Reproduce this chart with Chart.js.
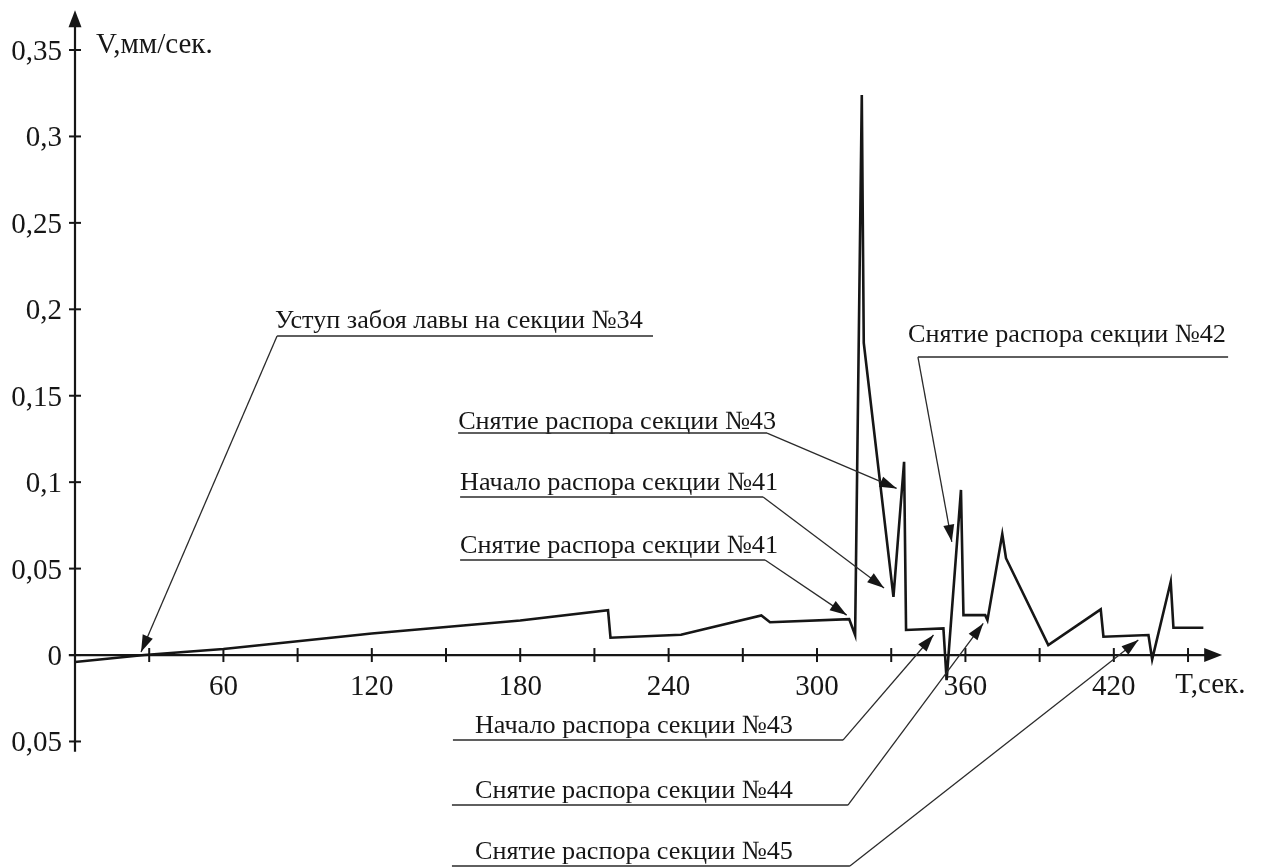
<!DOCTYPE html>
<html>
<head>
<meta charset="utf-8">
<script src="https://cdn.jsdelivr.net/npm/chart.js@4.4.0/dist/chart.umd.min.js"></script>
<style>
html, body { margin: 0; padding: 0; background: #fff; }
</style>
</head>
<body>
<canvas id="myChart" width="1263" height="868"></canvas>
<script>
// 1 DATA
const timeSec = [0, 28, 60, 120, 180, 215.5, 216.5, 245, 277.5, 281, 313, 315.4, 318.1, 318.9, 330.9, 335.2, 336,
    351.1, 352.4, 358.2, 359.2, 368, 368.9, 374.9, 376.4, 393.5, 414.7, 415.8, 434, 435.5, 443, 444.1, 456.2];
const speedMm = [-0.004, 0, 0.0035, 0.0125, 0.02, 0.026, 0.010, 0.0117, 0.0229, 0.019, 0.0208, 0.0116, 0.324, 0.1805, 0.0337, 0.1118, 0.0145,
    0.0154, -0.0145, 0.0955, 0.0231, 0.0231, 0.0202, 0.070, 0.056, 0.0058, 0.0264, 0.0106, 0.0116, -0.0025, 0.0424, 0.0158, 0.0158];

const xTickValues = [60, 120, 180, 240, 300, 360, 420];
const xTickLabels = ['60', '120', '180', '240', '300', '360', '420'];
const xMinorTicks = [30, 60, 90, 120, 150, 180, 210, 240, 270, 300, 330, 360, 390, 420, 450];
const yTickValues = [-0.05, 0, 0.05, 0.1, 0.15, 0.2, 0.25, 0.3, 0.35];
// the lower label is printed without a minus sign in the original
const yTickLabels = ['0,05', '0', '0,05', '0,1', '0,15', '0,2', '0,25', '0,3', '0,35'];

// annotation texts and where they point (seconds / mm per sec)
const noteTexts = [
    'Уступ забоя лавы на секции №34',
    'Снятие распора секции №42',
    'Снятие распора секции №43',
    'Начало распора секции №41',
    'Снятие распора секции №41',
    'Начало распора секции №43',
    'Снятие распора секции №44',
    'Снятие распора секции №45'
];
const noteTipT = [26.7, 354.5, 332.2, 327.1, 312.0, 347.1, 367.2, 429.9];
const noteTipV = [0.0017, 0.0655, 0.0964, 0.0388, 0.0231, 0.0116, 0.0183, 0.0087];

// 2 LAYOUT OF THE NOTES (in axis units)
const noteLayout = [
    { textT: 80.9, textV: 0.1889, t1: 81.7, t2: 233.7, lineV: 0.1845, from: 'left' },
    { textT: 336.8, textV: 0.1812, t1: 340.8, t2: 466.2, lineV: 0.1724, from: 'left' },
    { textT: 154.9, textV: 0.1307, t1: 154.9, t2: 279.8, lineV: 0.1284, from: 'right' },
    { textT: 155.7, textV: 0.0955, t1: 155.7, t2: 278.2, lineV: 0.0914, from: 'right' },
    { textT: 155.7, textV: 0.0590, t1: 155.7, t2: 279.0, lineV: 0.0550, from: 'right' },
    { textT: 161.7, textV: -0.0451, t1: 152.8, t2: 310.5, lineV: -0.0492, from: 'right' },
    { textT: 161.7, textV: -0.0827, t1: 152.4, t2: 312.5, lineV: -0.0868, from: 'right' },
    { textT: 161.7, textV: -0.1180, t1: 152.4, t2: 313.3, lineV: -0.1221, from: 'right' }
];

const ink = '#161616';
const serif = '"Liberation Serif", "DejaVu Serif", serif';

// 3 HELPERS
function arrowHead(ctx, fx, fy, tx, ty, len, half) {
    const dx = tx - fx, dy = ty - fy;
    const d = Math.hypot(dx, dy);
    const ux = dx / d, uy = dy / d;
    const bx = tx - ux * len, by = ty - uy * len;
    ctx.beginPath();
    ctx.moveTo(tx, ty);
    ctx.lineTo(bx - uy * half, by + ux * half);
    ctx.lineTo(bx + uy * half, by - ux * half);
    ctx.closePath();
    ctx.fill();
}

// 4 AXES PLUGIN
const axesPlugin = {
    id: 'crossAxes',
    beforeDatasetsDraw(chart) {
        const { ctx, scales: { x, y } } = chart;
        const x0 = x.getPixelForValue(0);
        const y0 = y.getPixelForValue(0);
        ctx.save();
        ctx.strokeStyle = ink;
        ctx.fillStyle = ink;
        ctx.lineWidth = 2.2;

        // vertical axis
        const yTop = y.getPixelForValue(0.373);
        const yBot = y.getPixelForValue(-0.056);
        ctx.beginPath();
        ctx.moveTo(x0, yBot);
        ctx.lineTo(x0, yTop + 12);
        ctx.stroke();
        arrowHead(ctx, x0, yBot, x0, yTop, 17, 6.5);

        // horizontal axis
        const xLeft = x.getPixelForValue(-2.5);
        const xRight = x.getPixelForValue(463.8);
        ctx.beginPath();
        ctx.moveTo(xLeft, y0);
        ctx.lineTo(xRight - 12, y0);
        ctx.stroke();
        arrowHead(ctx, xLeft, y0, xRight, y0, 18, 7);

        // ticks
        ctx.lineWidth = 2;
        yTickValues.forEach(v => {
            const py = y.getPixelForValue(v);
            ctx.beginPath();
            ctx.moveTo(x0 - 6, py);
            ctx.lineTo(x0 + 6, py);
            ctx.stroke();
        });
        xMinorTicks.forEach(t => {
            const px = x.getPixelForValue(t);
            ctx.beginPath();
            ctx.moveTo(px, y0 - 7);
            ctx.lineTo(px, y0 + 7);
            ctx.stroke();
        });

        // tick labels
        ctx.font = '29px ' + serif;
        ctx.textAlign = 'right';
        ctx.textBaseline = 'alphabetic';
        yTickValues.forEach((v, i) => {
            ctx.fillText(yTickLabels[i], x0 - 13, y.getPixelForValue(v) + 10);
        });
        ctx.textAlign = 'center';
        xTickValues.forEach((t, i) => {
            ctx.fillText(xTickLabels[i], x.getPixelForValue(t), y0 + 40);
        });

        // axis titles
        ctx.textAlign = 'left';
        ctx.fillText('V,мм/сек.', x0 + 21, y.getPixelForValue(0.35) + 3);
        ctx.fillText('T,сек.', x.getPixelForValue(444.8), y0 + 38);
        ctx.restore();
    },
    afterDatasetsDraw(chart) {
        const { ctx, scales: { x, y } } = chart;
        ctx.save();
        ctx.fillStyle = ink;
        ctx.strokeStyle = '#2a2a2a';
        ctx.font = '26.2px ' + serif;
        ctx.textAlign = 'left';
        ctx.textBaseline = 'alphabetic';
        noteLayout.forEach((n, i) => {
            const ly = y.getPixelForValue(n.lineV);
            const lx1 = x.getPixelForValue(n.t1);
            const lx2 = x.getPixelForValue(n.t2);
            ctx.fillText(noteTexts[i], x.getPixelForValue(n.textT), y.getPixelForValue(n.textV));
            ctx.lineWidth = 1.5;
            ctx.beginPath();
            ctx.moveTo(lx1, ly);
            ctx.lineTo(lx2, ly);
            ctx.stroke();
            const sx = n.from === 'left' ? lx1 : lx2;
            const tx = x.getPixelForValue(noteTipT[i]);
            const ty = y.getPixelForValue(noteTipV[i]);
            ctx.lineWidth = 1.3;
            ctx.beginPath();
            ctx.moveTo(sx, ly);
            ctx.lineTo(tx, ty);
            ctx.stroke();
            arrowHead(ctx, sx, ly, tx, ty, 17, 5.5);
        });
        ctx.restore();
    }
};

// 5 CHART
const points = timeSec.map((t, i) => ({ x: t, y: speedMm[i] }));
const ctx = document.querySelector('#myChart').getContext('2d');
const myChart = new Chart(ctx, {
    type: 'scatter',
    data: {
        datasets: [{
            label: 'V',
            data: points,
            showLine: true,
            borderColor: ink,
            borderWidth: 2.6,
            pointRadius: 0,
            tension: 0,
            clip: false
        }]
    },
    options: {
        responsive: false,
        animation: false,
        devicePixelRatio: 1,
        layout: { padding: { left: 75, right: 25.5, top: 50, bottom: 40.1 } },
        plugins: { legend: { display: false }, tooltip: { enabled: false } },
        scales: {
            x: { type: 'linear', min: 0, max: 470, display: false },
            y: { type: 'linear', min: -0.1, max: 0.35, display: false }
        }
    },
    plugins: [axesPlugin]
});
</script>
</body>
</html>
